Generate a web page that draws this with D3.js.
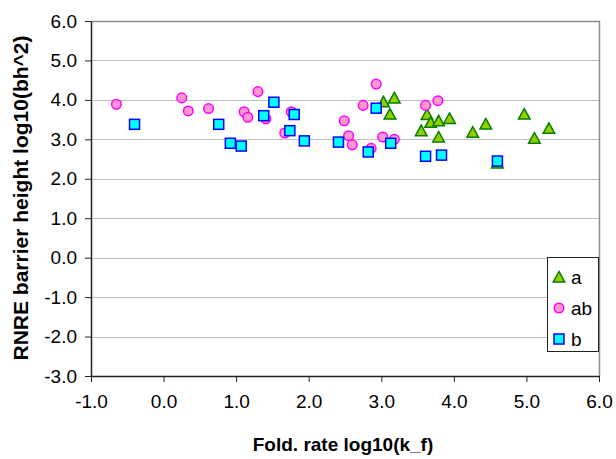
<!DOCTYPE html>
<html>
<head>
<meta charset="utf-8">
<script src="https://cdn.jsdelivr.net/npm/d3@7"></script>
<style>
  html, body { margin: 0; padding: 0; background: #fff; }
  svg { display: block; font-family: "Liberation Sans", Arial, sans-serif; }
</style>
</head>
<body>
<svg id="chart" width="616" height="459"></svg>
<script>
// ---- data ----
const seriesNames = ["a", "ab", "b"];
const aX = [3.03, 3.18, 3.12, 3.55, 3.63, 3.68, 3.79, 3.94, 3.79, 4.26, 4.44, 4.60, 4.97, 5.11, 5.31];
const aY = [3.95, 4.05, 3.64, 3.22, 3.63, 3.43, 3.47, 3.53, 3.06, 3.18, 3.39, 2.40, 3.64, 3.03, 3.28];
const abX = [-0.65, 0.25, 0.34, 0.62, 1.11, 1.16, 1.30, 1.41, 1.76, 1.67, 2.49, 2.55, 2.60, 2.75, 2.86, 2.93, 3.02, 3.18, 3.61, 3.78];
const abY = [3.89, 4.05, 3.72, 3.78, 3.70, 3.56, 4.21, 3.52, 3.70, 3.16, 3.47, 3.09, 2.86, 3.86, 2.77, 4.40, 3.06, 3.00, 3.86, 3.98];
const bX = [-0.40, 0.76, 0.92, 1.07, 1.38, 1.52, 1.80, 1.74, 1.94, 2.41, 2.82, 2.93, 3.13, 3.61, 3.83, 4.60];
const bY = [3.38, 3.38, 2.90, 2.83, 3.60, 3.94, 3.63, 3.22, 2.96, 2.93, 2.68, 3.79, 2.90, 2.57, 2.60, 2.45];
const xTicks = [-1, 0, 1, 2, 3, 4, 5, 6];
const yTicks = [-3, -2, -1, 0, 1, 2, 3, 4, 5, 6];
const xTitle = "Fold. rate log10(k_f)";
const yTitle = "RNRE barrier height log10(bh^2)";

// ---- layout ----
const svg = d3.select("#chart");
const L = 91, R = 599, T = 21, B = 376;
const x = d3.scaleLinear().domain([-1, 6]).range([L, R]);
const y = d3.scaleLinear().domain([-3, 6]).range([B, T]);

// gridlines
svg.append("g").selectAll("line").data(yTicks.filter(d => d > -3)).join("line")
  .attr("x1", L).attr("x2", R)
  .attr("y1", d => Math.round(y(d)) + 0.5).attr("y2", d => Math.round(y(d)) + 0.5)
  .attr("stroke", "#c0c0c0").attr("stroke-width", 1);

// plot border top/right
svg.append("path")
  .attr("d", `M${L},${T + 0.5}H${R + 0.5}V${B}`)
  .attr("fill", "none").attr("stroke", "#8c8c8c").attr("stroke-width", 1.5);

// axes
const fmt = d => d.toFixed(1);
const xAxis = svg.append("g").attr("transform", `translate(0,${B})`)
  .call(d3.axisBottom(x).tickValues(xTicks).tickFormat(fmt).tickSizeOuter(0).tickSizeInner(6).tickPadding(26));
const yAxis = svg.append("g").attr("transform", `translate(${L},0)`)
  .call(d3.axisLeft(y).tickValues(yTicks).tickFormat(fmt).tickSizeOuter(0).tickSizeInner(6).tickPadding(8));
[xAxis, yAxis].forEach(g => {
  g.select(".domain").attr("stroke", "#222").attr("stroke-width", 1.5);
  g.selectAll(".tick line").attr("stroke", "#222").attr("stroke-width", 1);
  g.selectAll("text").attr("font-size", 19).attr("fill", "#000")
    .attr("font-family", "'Liberation Sans', Arial, sans-serif");
});
xAxis.selectAll("text").attr("dy", "0em");

// axis titles
svg.append("text").text(xTitle)
  .attr("x", 343).attr("y", 451).attr("text-anchor", "middle")
  .attr("font-size", 19).attr("font-weight", "bold");
svg.append("text").text(yTitle)
  .attr("transform", `translate(28,198) rotate(-90)`)
  .attr("text-anchor", "middle")
  .attr("font-size", 21).attr("font-weight", "bold");

// markers
const triPath = "M0,-5.5L5.8,5L-5.8,5Z";
const styles = {
  a: { fill: "#99cc00", stroke: "#008000" },
  ab: { fill: "#ff99cc", stroke: "#ff00ff" },
  b: { fill: "#00ffff", stroke: "#0000ff" }
};
function drawMarker(sel, name) {
  const s = styles[name];
  if (name === "a") {
    sel.append("path").attr("d", triPath);
  } else if (name === "ab") {
    sel.append("circle").attr("r", 4.8);
  } else {
    sel.append("rect").attr("x", -5).attr("y", -5).attr("width", 10).attr("height", 10);
  }
  sel.selectAll("path,circle,rect").attr("fill", s.fill).attr("stroke", s.stroke).attr("stroke-width", 1.5);
}
const seriesData = {
  a: aX.map((v, i) => [v, aY[i]]),
  ab: abX.map((v, i) => [v, abY[i]]),
  b: bX.map((v, i) => [v, bY[i]])
};
seriesNames.forEach(name => {
  svg.append("g").selectAll("g").data(seriesData[name]).join("g")
    .attr("transform", d => `translate(${x(d[0])},${y(d[1])})`)
    .each(function () { drawMarker(d3.select(this), name); });
});

// legend
const lg = svg.append("g");
lg.append("rect").attr("x", 547.5).attr("y", 257.5).attr("width", 51).attr("height", 94)
  .attr("fill", "#fff").attr("stroke", "#222").attr("stroke-width", 1);
const legY = [277, 308, 339];
seriesNames.forEach((name, i) => {
  const g = lg.append("g").attr("transform", `translate(559,${legY[i]})`);
  drawMarker(g, name);
  lg.append("text").text(name).attr("x", 571).attr("y", legY[i]).attr("dy", "0.36em")
    .attr("font-size", 19);
});
</script>
</body>
</html>
